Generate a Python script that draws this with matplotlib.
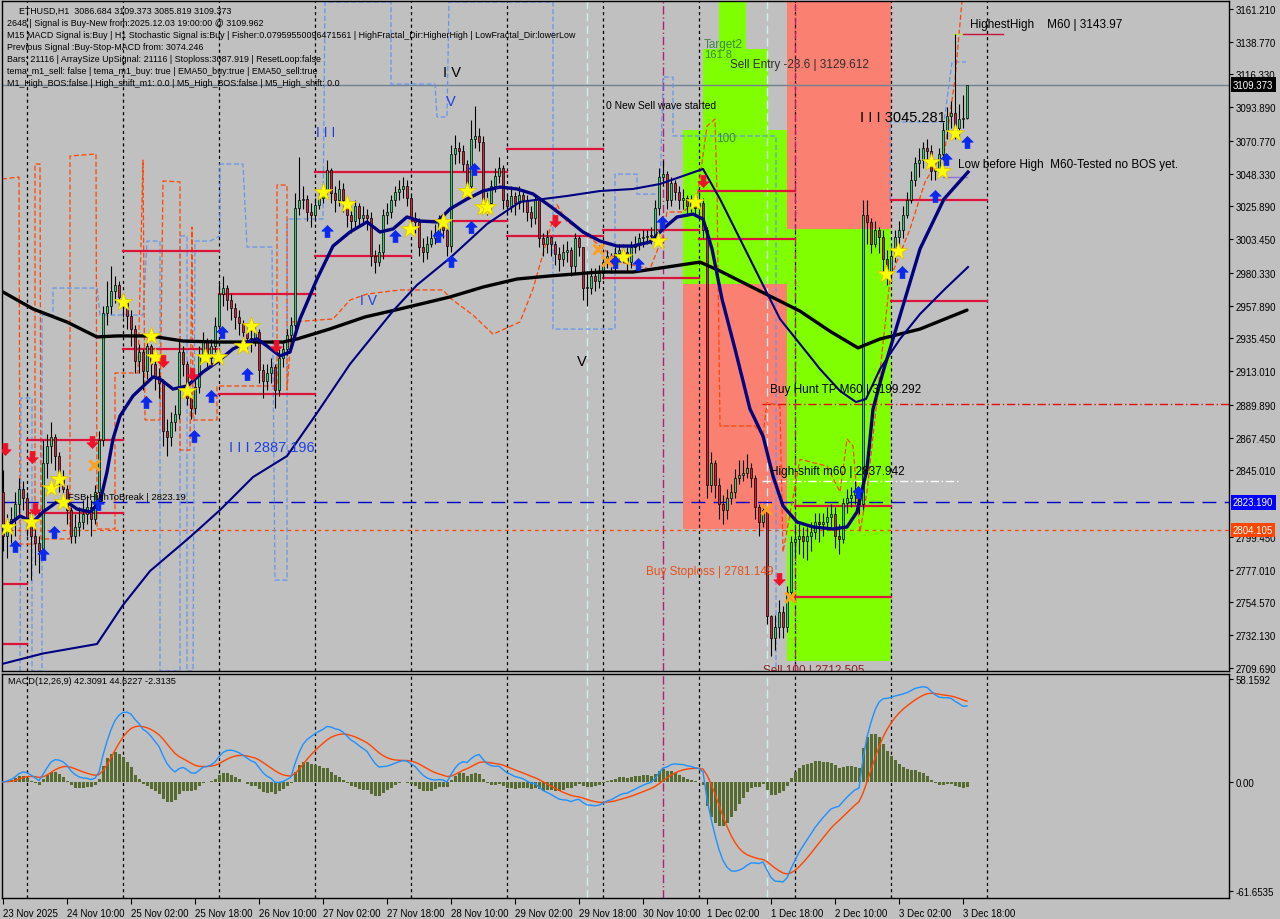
import numpy as np
import pandas as pd
import matplotlib
matplotlib.use('Agg')
import matplotlib.pyplot as plt
from matplotlib.path import Path
from matplotlib.patches import Rectangle

# ---------------- data ----------------
first_open = 2830.0
closes = [
2800,2806,2812,2822,2832,2826,2812,2800,2795,2790,
2850,2862,2868,2855,2840,2832,2818,2800,2806,2810,
2815,2820,2812,2830,2866,2953,2958,2968,2972,2964,
2960,2951,2942,2920,2926,2913,2930,2918,2910,2905,
2872,2868,2878,2884,2926,2918,2895,2888,2902,2925,
2934,2922,2930,2944,2966,2970,2962,2956,2950,2946,
2940,2936,2934,2940,2914,2906,2912,2916,2900,2922,
2928,2938,2945,3025,3030,3031,3022,3020,3027,3032,
3037,3051,3035,3030,3038,3030,3020,3016,3026,3018,
3020,3018,2992,2988,2995,3020,3022,3030,3036,3038,
3040,3032,3018,3015,2998,2995,3000,3004,3008,3016,
3010,2999,3062,3066,3064,3055,3040,3072,3074,3070,
3030,3028,3040,3047,3052,3030,3026,3033,3028,3034,
3030,3022,3018,3030,3004,3000,3005,3000,2993,2990,
2995,2996,2985,3004,2998,2970,2970,2978,2975,2980,
2988,2992,2986,2994,2996,2995,2988,2998,3000,3004,
3005,3006,3006,3025,3046,3048,3030,3042,3036,3030,
3032,3026,3030,3025,3028,3010,2835,2850,2835,2822,
2818,2826,2830,2840,2842,2843,2847,2840,2820,2810,
2818,2745,2730,2738,2748,2738,2762,2796,2798,2800,
2797,2800,2803,2810,2808,2810,2813,2815,2800,2798,
2823,2826,2828,2830,2822,3020,3015,3000,3010,3005,
2990,2982,2992,3005,3010,3020,3030,3044,3056,3058,
3066,3064,3050,3052,3062,3078,3088,3090,3080,3086,
3086.684,3109.373]
highs = [
2845,2815,2820,2830,2840,2838,2830,2815,2808,2800,
2866,2870,2878,2870,2858,2845,2835,2820,2815,2820,
2825,2828,2825,2835,2872,2958,2975,2985,2978,2975,
2966,2962,2955,2945,2932,2928,2936,2932,2922,2915,
2908,2880,2885,2890,2935,2930,2920,2900,2908,2930,
2940,2936,2935,2950,2975,2978,2972,2966,2960,2955,
2948,2945,2942,2946,2942,2918,2918,2922,2918,2928,
2934,2942,2950,3035,3060,3040,3034,3028,3032,3036,
3042,3058,3052,3040,3044,3042,3032,3026,3030,3028,
3026,3024,3022,2996,3000,3024,3028,3034,3040,3044,
3046,3044,3034,3022,3018,3004,3006,3010,3014,3020,
3020,3012,3068,3075,3070,3068,3058,3085,3095,3080,
3074,3036,3044,3052,3060,3054,3034,3040,3036,3040,
3036,3034,3026,3034,3032,3008,3010,3006,3002,2998,
3000,3002,2998,3008,3006,2998,2982,2984,2984,2986,
2992,2996,2994,2998,3000,3000,2998,3002,3006,3008,
3010,3010,3012,3030,3052,3058,3050,3046,3044,3040,
3038,3034,3034,3034,3036,3032,3012,2858,2852,2840,
2828,2832,2836,2846,2852,2852,2856,2850,2842,2822,
2822,2820,2746,2746,2756,2752,2766,2800,2806,2808,
2806,2806,2810,2816,2816,2816,2820,2822,2820,2808,
2826,2832,2834,2838,2834,3030,3030,3018,3016,3012,
3010,2996,2998,3010,3016,3026,3036,3050,3060,3066,
3070,3072,3068,3058,3066,3084,3094,3098,3143.97,3096,
3102,3109.373]
lows = [
2790,2785,2795,2800,2815,2818,2800,2770,2780,2775,
2786,2840,2850,2845,2830,2822,2808,2795,2795,2800,
2805,2808,2800,2808,2826,2862,2945,2952,2960,2958,
2950,2942,2930,2912,2912,2900,2908,2910,2900,2895,
2862,2855,2862,2872,2880,2910,2890,2880,2884,2898,
2920,2916,2918,2926,2940,2958,2955,2948,2942,2938,
2932,2928,2926,2930,2905,2895,2900,2905,2888,2896,
2916,2924,2932,2942,3020,3024,3016,3012,3016,3024,
3028,3034,3028,3022,3026,3022,3012,3008,3012,3012,
3014,3010,2985,2980,2985,2990,3014,3018,3026,3030,
3032,3026,3010,3008,2992,2988,2990,2998,3000,3006,
3004,2992,2995,3055,3056,3050,3036,3036,3066,3064,
3025,3020,3024,3036,3042,3024,3020,3022,3020,3024,
3022,3016,3012,3014,2998,2992,2994,2992,2986,2982,
2985,2988,2978,2980,2992,2962,2958,2966,2968,2970,
2976,2984,2980,2982,2988,2988,2982,2984,2994,2996,
2998,3000,3000,3002,3020,3040,3024,3026,3030,3024,
3024,3020,3022,3020,3022,3004,2826,2830,2826,2812,
2808,2812,2822,2826,2836,2838,2840,2834,2812,2800,
2806,2740,2718,2722,2730,2730,2734,2758,2786,2788,
2785,2784,2790,2798,2796,2800,2804,2806,2792,2788,
2795,2816,2820,2822,2815,2818,3000,2994,2998,2994,
2976,2972,2975,2988,2998,3004,3018,3028,3040,3046,
3052,3056,3044,3044,3048,3058,3072,3080,3072,3074,
3080,3085.819]

# moving-average style lines, sampled (bar index, price)
fast_ma_bar = [0,4.25,7.5,10,13.5,16,18.5,21.75,24.25,26,27.5,29.25,32.5,37.5,39.25,42.5,46,50,53.5,57.5,61,63.5,66,69.25,71.75,74.25,78.5,82.5,86.75,91,94.25,97.5,101,104.25,108.5,111.75,116,120,124.25,128.5,132.5,136.75,141,145,149.25,153.5,157.5,161.75,165,168.5,172.5,175,177.25,179.75,183,186.75,190,192.5,195,198.5,202.5,207.5,211,213.5,216,217.5,220,222.5,225.5,229.25,235.25,241.25]
fast_ma_val = [2804.9,2813.8,2809.7,2816.6,2823.4,2823.4,2818.6,2816.6,2823.4,2844.0,2866.6,2882.3,2896.1,2909.1,2907.7,2900.8,2902.9,2912.5,2919.3,2928.3,2933.0,2935.1,2930.3,2923.5,2926.2,2948.8,2976.2,2998.8,3008.4,3015.3,3008.4,3010.5,3018.7,3015.9,3015.3,3024.2,3031.0,3036.5,3039.2,3037.9,3034.5,3026.2,3017.3,3008.4,3002.2,2998.8,2998.8,3001.6,3010.5,3018.7,3020.7,3017.3,2996.8,2962.5,2928.3,2887.1,2868.6,2841.2,2820.7,2809.7,2806.3,2804.9,2806.3,2816.6,2846.0,2887.1,2912.5,2935.1,2962.5,2996.8,3031.0,3049.5]
slow_ma_bar = [0,10,23.5,30,36.75,46.75,54.25,62.5,71,78.5,86.75,97.5,103.5,111.75,121,129.25,141,149.25,157.5,164.25,170,175,179.25,184.25,189.25,194.25,199.25,204.25,209.25,213.25,215.75,219.25,224.25,229.25,235.5,241.25]
slow_ma_val = [2712.6,2719.6,2726.1,2752.8,2776.1,2799.4,2817.9,2840.5,2854.9,2884.4,2917.9,2954.3,2972.1,2990.6,3013.9,3029.0,3033.1,3036.5,3037.9,3041.3,3046.8,3051.6,3031.0,3003.6,2976.2,2948.8,2931.7,2914.5,2899.5,2891.9,2894.0,2914.5,2935.1,2952.2,2969.4,2984.4]
long_ma_bar = [0,7.5,16,23.5,28.5,36.75,45,53.5,61.75,70,73.5,81.75,90.5,99.25,111.75,120,128.5,136.75,149.25,157.5,166,174.25,179.25,189.25,199.25,206.75,213.75,219.25,229.25,241]
long_ma_val = [2967.3,2955.7,2946.7,2936.5,2937.2,2937.2,2933.7,2933.0,2933.0,2933.0,2935.1,2942.0,2950.2,2955.7,2963.9,2970.7,2976.2,2978.3,2981.0,2981.0,2984.4,2987.8,2981.7,2967.9,2954.2,2940.4,2929.0,2935.1,2941.9,2954.9]

# dashed channel lines (bar index, price); None marks a gap
blue_ch_bar = [4.25,4.5,7.25,7.25,9.75,9.75,12.5,12.5,23.5,24.25,35,36,39.25,39.25,44.25,44.25,46,46,47.5,48,51.75,54.25,54.25,60,61,67.25,68,71,71,80,80.5,97,97,108,108.5,111,111.5,137.5,137.5,153,153,158.5,158.5,164.25,165,167.5,167.5,178.75,193.25,193.25,None,221.75,221.75,235.25,237.25,240.75]
blue_ch_val = [2707.6,2894.7,2894.7,2707.6,2707.6,2951.5,2951.5,2970.0,2970.0,2951.5,2951.5,3002.2,3002.2,2707.6,2707.6,3005.7,3005.7,2707.6,2707.6,3002.2,3002.2,3005.7,3055.0,3055.0,2998.1,2998.1,2769.9,2769.9,3017.3,3017.3,3166.0,3166.0,3109.8,3109.8,3087.2,3087.2,3166.0,3166.0,2941.9,2941.9,3048.1,3048.1,3034.4,3034.4,3114.6,3114.6,3074.2,3074.2,3074.2,2707.6,None,3030.3,3083.8,3083.8,3124.9,3124.9]
orange_ch_bar = [-0.25,4,4.25,8,8,9.25,9.5,16.75,16.75,23.25,23.5,28,28,33.75,35,35.5,39.25,40,44.25,44.25,46.75,47.25,47.5,53.5,53.5,68.5,68.5,71,71,72.25,82.5,86.75,91,99.25,110,111.75,117.5,122.5,129.25,132.5,138.5,141,144.25,149.25,154.25,161.75,165,166,170,173.5,176,178,178.5,179.25,188,190,191,194.25,195,199.25,206,209.25,211,212.5,214.25,216,221.75,226.75,230.5,235.5,238,239.75]
orange_ch_val = [3044.7,3046.1,2794.6,2794.6,3055.0,3055.0,2798.1,2798.1,3060.5,3061.9,2804.9,2804.9,2911.8,2911.8,3057.7,2879.6,2879.6,3043.4,3042.7,2859.0,2859.0,3011.8,2879.6,2879.6,2902.9,2902.9,3040.6,3040.6,2900.1,2946.8,2948.8,2961.8,2965.9,2968.7,2968.7,2963.2,2951.5,2938.4,2946.8,2969.4,3027.1,3015.3,3010.5,2998.7,2987.8,2983.1,3005.7,3022.1,3022.1,3031.0,3081.0,3085.8,3035.8,2875.5,2875.5,2868.6,2891.9,2889.2,2789.1,2852.7,2848.0,2830.3,2866.6,2861.8,2802.8,2830.3,2976.2,3010.5,3042.7,3065.3,3113.1,3166.7]

# signal markers (bar index, price)
star_bar = [1,7,12,14,15,30,37,38,46,50.5,53.75,60,62,80,86,101.75,110,116,120,121,155,163.75,173,220.75,223.75,232,234.75,238]
star_val = [2806.3,2809.7,2832.8,2839.2,2823.4,2960.4,2937.2,2922.8,2899.5,2922.8,2922.8,2930.3,2944.0,3035.8,3027.6,3010.5,3015.3,3036.5,3025.5,3025.5,2991.3,3002.3,3028.8,2979.6,2995.4,3056.4,3050.2,3076.2]
buy_bar = [3,10,12.75,23.75,35.75,47.75,52,54.75,61,81,98,108.75,112,117,117.75,153,158.75,164.75,213.75,224.75,233,235.75,241]
buy_val = [2793.3,2787.8,2802.8,2822.0,2891.9,2868.6,2896.1,2939.9,2911.1,3009.1,3005.7,3005.7,2988.5,3011.8,3051.6,2987.8,2986.5,3015.3,2830.3,2981.0,3033.1,3058.4,3070.1]
sell_bar = [0.5,7.25,8,22.25,40,47.25,68.25,138,175,194]
sell_val = [2859.7,2854.2,2818.6,2864.5,2920.0,2911.1,2930.3,3015.9,3043.4,2770.6]
cross_bar = [22.75,148.75,151,190.75,196.75]
cross_val = [2848.8,2996.8,2988.5,2818.6,2758.3]

# daily high / low segments
seg_start = [-1,6,30,54,78,102,126,150,174,198,222]
seg_end = [6,30,54,78,102,126,150,174,198,222,246]
seg_high = [2767.2,2865.9,2995.4,2965.9,3049.5,3049.5,3065.3,3009.8,3036.5,2820.7,3030.3]
seg_low = [2726.1,2815.9,2928.2,2897.4,2992.0,3015.9,3005.7,2976.9,3003.6,2758.3,2961.1]

# zones
green_x0 = [170,175,179,185.75,191.25]
green_x1 = [175,179,185.75,191.25,196]
green_top = [3078.3,3133.8,3170.0,3133.8,3078.3]
green_bottom = 2972.8
salmon_low = (170,196,2804.9,2972.8)
green_right = (196,222,2714.5,3010.5)
salmon_top = (196,222,3010.5,3170.0)

current_price = 3109.373
fsb_level = 2823.19
red_dot_level = 2804.105
buy_hunt_level = 2890.5
high_shift_level = 2837.942
highest_high = 3143.97
low_before_high = 3046.0

price_ticks = [3161.210,3138.770,3116.330,3093.890,3070.770,3048.330,3025.890,3003.450,2980.330,2957.890,2935.450,2913.010,2889.890,2867.450,2845.010,2799.450,2777.010,2754.570,2732.130,2709.690]
macd_ticks = [58.1592, 0.0, -61.6535]
macd_tick_labels = ['58.1592', '0.00', '-61.6535']
time_label_bars = [0,16,32,48,64,80,96,112,128,144,160,176,192,208,224,240]
time_labels = ['23 Nov 2025','24 Nov 10:00','25 Nov 02:00','25 Nov 18:00','26 Nov 10:00','27 Nov 02:00','27 Nov 18:00','28 Nov 10:00','29 Nov 02:00','29 Nov 18:00','30 Nov 10:00','1 Dec 02:00','1 Dec 18:00','2 Dec 10:00','3 Dec 02:00','3 Dec 18:00']
day_lines = [6,30,54,78,102,126,150,174,198,222,246]

info_lines = [
    'ETHUSD,H1  3086.684 3109.373 3085.819 3109.373',
    '2648 | Signal is Buy-New from:2025.12.03 19:00:00 @ 3109.962',
    'M15 MACD Signal is:Buy | H1 Stochastic Signal is:Buy | Fisher:0.07959550096471561 | HighFractal_Dir:HigherHigh | LowFractal_Dir:lowerLow',
    'Previous Signal :Buy-Stop-MACD from: 3074.246',
    'Bars: 21116 | ArraySize UpSignal: 21116 | Stoploss:3087.919 | ResetLoop:false',
    'tema_m1_sell: false | tema_m1_buy: true | EMA50_buy:true | EMA50_sell:true',
    'M1_High_BOS:false | High_shift_m1: 0.0 | M5_High_BOS:false | M5_High_shift: 0.0',
]

# ---------------- figure ----------------
W, H = 1280, 920
BG = '#C0C0C0'
FONT = 'Liberation Sans'
plt.rcParams['font.family'] = [FONT, 'DejaVu Sans']

fig = plt.figure(figsize=(W/100, H/100), dpi=100, facecolor=BG)

def fx(x): return x / W
def fy(y): return 1 - y / H

ax = fig.add_axes([fx(2), fy(672), (1229-2)/W, (672-2)/H], facecolor=BG)
axm = fig.add_axes([fx(2), fy(899), (1229-2)/W, (899-675)/H], facecolor=BG)

XL = (-0.25, 306.5)
ax.set_xlim(*XL)
ax.set_ylim(2707.61, 3166.69)
axm.set_xlim(*XL)
axm.set_ylim(-65.6, 60.97)

for a in (ax, axm):
    for s in a.spines.values():
        s.set_color('black'); s.set_linewidth(1.0)
    a.yaxis.tick_right()
    a.tick_params(axis='y', direction='out', length=3, width=0.8, colors='black',
                  labelsize=7, pad=2)

# zones
for x0, x1, t in zip(green_x0, green_x1, green_top):
    ax.add_patch(Rectangle((x0, green_bottom), x1-x0, t-green_bottom, facecolor='#7FFF00', edgecolor='none', zorder=0.5))
for (x0, x1, b, t), c in [(salmon_low, '#FA8072'), (green_right, '#7FFF00'), (salmon_top, '#FA8072')]:
    ax.add_patch(Rectangle((x0, b), x1-x0, t-b, facecolor=c, edgecolor='none', zorder=0.5))

# vertical lines
for d in day_lines:
    ax.axvline(d, color='black', lw=0.9, ls=(0, (2.5, 2.5)), zorder=1)
    axm.axvline(d, color='black', lw=0.9, ls=(0, (2.5, 2.5)), zorder=1)
for a in (ax, axm):
    a.axvline(165, color='#B0207A', lw=1.0, ls=(0, (6, 2, 1, 2)), zorder=1.1)
    a.axvline(191, color='#CFEFEF', lw=1.0, ls=(0, (6, 3)), zorder=1.1)
    a.axvline(146, color='#CFEFEF', lw=1.0, ls=(0, (6, 3)), zorder=1.1)
ax.axvline(198, color='#B0207A', lw=0.9, ls=(0, (6, 2, 1, 2)), zorder=1.1)

# dashed channels
bx = np.array([np.nan if v is None else v for v in blue_ch_bar], float)
by = np.array([np.nan if v is None else v for v in blue_ch_val], float)
ax.plot(bx, by, color='#6495ED', lw=0.9, ls=(0, (4, 2)), zorder=1.5)
ax.plot(orange_ch_bar, orange_ch_val, color='#FF4500', lw=0.9, ls=(0, (4, 2)), zorder=1.5)

# horizontal levels
ax.axhline(current_price, color='#708090', lw=1.0, zorder=1.2)
ax.axhline(fsb_level, color='#0000C8', lw=1.0, ls=(0, (10, 6)), zorder=1.2)
ax.axhline(red_dot_level, color='#FF4500', lw=0.9, ls=(0, (3, 3)), zorder=1.2)
ax.plot([189.75, XL[1]], [buy_hunt_level]*2, color='#E01010', lw=1.0, ls=(0, (6, 2, 1, 2)), zorder=1.2)
ax.plot([189.75, 239], [high_shift_level]*2, color='white', lw=1.0, ls=(0, (6, 2, 1, 2)), zorder=1.2)

# daily segments
for s0, s1, hv, lv in zip(seg_start, seg_end, seg_high, seg_low):
    ax.plot([s0, s1], [hv, hv], color='#DC143C', lw=1.6, zorder=2)
    ax.plot([s0, s1], [lv, lv], color='#DC143C', lw=1.6, zorder=2)
ax.plot([237.5, 240], [highest_high]*2, color='#C8E040', lw=1.0, zorder=2)
ax.plot([240, 250], [highest_high]*2, color='#C8143C', lw=1.0, zorder=2)
ax.plot([235, 241], [low_before_high]*2, color='#9370DB', lw=1.0, zorder=2)

# candles
opens = [first_open] + closes[:-1]
idx = np.arange(len(closes))
o = np.array(opens, float); c = np.array(closes, float)
hi = np.maximum(np.array(highs, float), np.maximum(o, c))
lo = np.minimum(np.array(lows, float), np.minimum(o, c))
ax.vlines(idx, lo, hi, color='black', lw=0.8, zorder=3)
body_b = np.minimum(o, c)
body_h = np.maximum(np.abs(c - o), 0.6)
cols = np.where(c >= o, '#3CCB6E', '#C8283C')
ax.bar(idx, body_h, bottom=body_b, width=0.72, color=cols, edgecolor='black', linewidth=0.5, zorder=3.1)

# MA lines
ax.plot(long_ma_bar, long_ma_val, color='black', lw=2.4, zorder=4, solid_capstyle='round')
ax.plot(slow_ma_bar, slow_ma_val, color='#000080', lw=1.5, zorder=4)
ax.plot(fast_ma_bar, fast_ma_val, color='#000080', lw=2.4, zorder=4.1)

# markers
def arrow_path(up=True):
    v = [(0, 1), (0.95, 0.05), (0.4, 0.05), (0.4, -1), (-0.4, -1), (-0.4, 0.05), (-0.95, 0.05), (0, 1)]
    if not up:
        v = [(x, -y) for x, y in v]
    cds = [Path.MOVETO] + [Path.LINETO]*6 + [Path.CLOSEPOLY]
    return Path(v, cds)

ax.scatter(star_bar, star_val, marker='*', s=190, c='#FFFF00', edgecolors='#E0C000', linewidths=0.5, zorder=5)
ax.scatter(buy_bar, buy_val, marker=arrow_path(True), s=75, c='#0A28F0', edgecolors='#0A28F0', linewidths=0.5, zorder=5)
ax.scatter(sell_bar, sell_val, marker=arrow_path(False), s=75, c='#F0102A', edgecolors='#F0102A', linewidths=0.5, zorder=5)
ax.scatter(cross_bar, cross_val, marker='x', s=55, c='#FFA020', linewidths=2.2, zorder=5)

# MACD
cs = pd.Series(closes, dtype=float)
ema12 = cs.ewm(span=12, adjust=False).mean()
ema26 = cs.ewm(span=26, adjust=False).mean()
macd = ema12 - ema26
signal = macd.ewm(span=9, adjust=False).mean()
hist = macd - signal
axm.bar(idx, hist.values, width=0.75, color='#556B2F', edgecolor='none', zorder=2)
axm.plot(idx, signal.values, color='#FF4500', lw=1.0, zorder=3)
axm.plot(idx, macd.values, color='#1E90FF', lw=1.0, zorder=3.1)

# ticks
ax.set_yticks(price_ticks)
ax.set_yticklabels(['%.3f' % p for p in price_ticks], fontsize=7)
ax.set_xticks([])
axm.set_yticks(macd_ticks)
axm.set_yticklabels(macd_tick_labels, fontsize=7)
axm.set_xticks(time_label_bars)
axm.set_xticklabels(time_labels, fontsize=7, ha='left')
axm.tick_params(axis='x', direction='out', length=4, width=0.8, pad=3)

# price boxes at right
def fig_y(price):
    return fig.transFigure.inverted().transform(ax.transData.transform((0, price)))[1]
for price, bgc in [(current_price, 'black'), (fsb_level, '#0000FF'), (red_dot_level, '#FF4500')]:
    fig.text(fx(1233), fig_y(price), '%.3f' % price, color='white', fontsize=7,
             va='center', ha='left', bbox=dict(facecolor=bgc, edgecolor='none', pad=1.6), zorder=10)

# text helpers
def T(x, y, s, size=8, color='black', **kw):
    fig.text(fx(x), fy(y), s, fontsize=size, color=color, va='center', ha='left', zorder=9, **kw)

T(19, 11, info_lines[0], 6.4)
for k, line in enumerate(info_lines[1:]):
    T(7, 23 + 12*k, line, 6.4)
T(8, 682, 'MACD(12,26,9) 42.3091 44.6227 -2.3135', 6.6)

T(443, 73, 'I V', 10.5)
T(446, 102, 'V', 10.5, '#2040E0')
T(316, 133, 'I I I', 10, '#2040E0')
T(360, 301, 'I V', 10, '#2040E0')
T(577, 362, 'V', 10.5)
T(229, 448, 'I I I 2887.196', 10.5, '#2040E0')
T(860, 118, 'I I I 3045.281', 10.5)
T(68, 497, 'FSB-HighToBreak | 2823.19', 6.8)
T(606, 106, '0 New Sell wave started', 7.4)
T(704, 45, 'Target2', 8.5, '#3C8A3C')
T(704, 55, '161.8', 8, '#3C8A3C')
T(716, 139, '100', 8.5, '#3C8A3C')
T(730, 65, 'Sell Entry -23.6 | 3129.612', 8.5, '#303030')
T(970, 25, 'HighestHigh    M60 | 3143.97', 8.5)
T(958, 165, 'Low before High  M60-Tested no BOS yet.', 8.5)
T(770, 390, 'Buy Hunt TP M60 | 3199.292', 8.5)
T(770, 472, 'High-shift m60 | 2837.942', 8.5)
T(646, 572, 'Buy Stoploss | 2781.149', 8.5, '#E8501C')
ax.text(190, 2708.5, 'Sell 100 | 2712.505', fontsize=8.5, color='#8B2020', va='center', ha='left', clip_on=True, zorder=9)

fig.savefig('out.png', dpi=100, facecolor=BG)
